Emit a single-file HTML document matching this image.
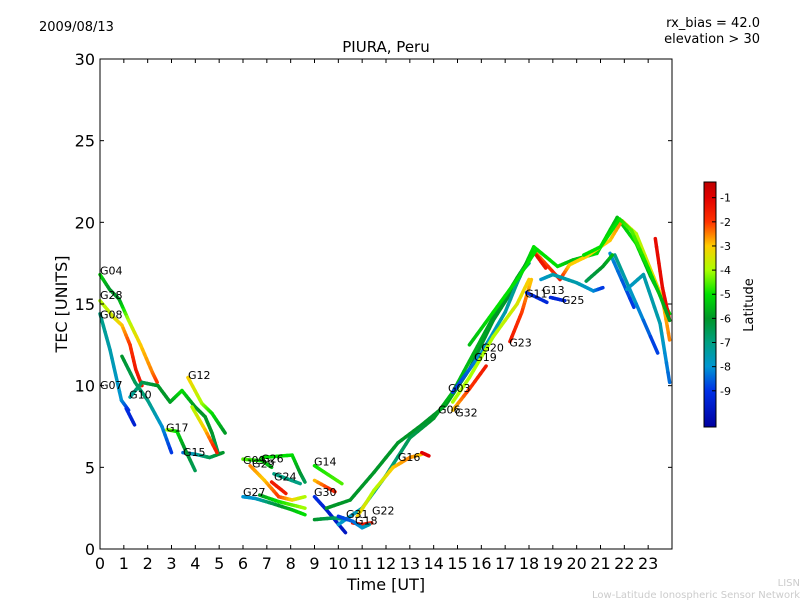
<!DOCTYPE html>
<html><head><meta charset="utf-8"><style>
body{margin:0;background:#fff;}
svg text{font-family:"DejaVu Sans","Liberation Sans",sans-serif;}
</style></head><body>
<svg id="chart" width="800" height="600" xmlns="http://www.w3.org/2000/svg">
<rect width="800" height="600" fill="#fff"/>
<text x="39" y="31" font-size="13">2009/08/13</text>
<text x="760" y="27" font-size="13" text-anchor="end">rx_bias = 42.0</text>
<text x="760" y="43" font-size="13" text-anchor="end">elevation &gt; 30</text>
<text x="386" y="52" font-size="15" text-anchor="middle">PIURA, Peru</text>
<text x="386" y="590" font-size="16" text-anchor="middle">Time [UT]</text>
<text x="67" y="304" font-size="16" text-anchor="middle" transform="rotate(-90 67 304)">TEC [UNITS]</text>
<text x="753" y="305" font-size="13" text-anchor="middle" transform="rotate(-90 753 305)">Latitude</text>
<text x="800" y="586" font-size="10" fill="#ccc" text-anchor="end">LISN</text>
<text x="800" y="598" font-size="10" fill="#ccc" text-anchor="end">Low-Latitude Ionospheric Sensor Network</text>
<defs><linearGradient id="cmap" x1="0" y1="1" x2="0" y2="0"></linearGradient></defs>
<g id="plot"></g>
<g id="cbar"></g>
</svg>
<script>
const xTicks=[0,1,2,3,4,5,6,7,8,9,10,11,12,13,14,15,16,17,18,19,20,21,22,23];
const yTicks=[0,5,10,15,20,25,30];
const cbarTicks=[-1,-2,-3,-4,-5,-6,-7,-8,-9];
const trackNames=["G04","G08","G07a","G07b","G10a","G10b","G15","G12a","G12b","G17","G09a","G27","G27b","G26","G29","G24a","G24b","G14","G30","G30b","G31","G18","R1","R2","R3","G16","G32","G23","G03","P1","P2","P3","P4","P5","P6","G11a","G11b","G11c","G13","P7","G19y","G20g","P8"];
const trackTimes=[
[0,0.4,0.8,1.2,1.7,2.2,2.4],
[0,0.63,0.92,1.26,1.5,1.76],
[0,0.42,0.9,1.2],
[1.1,1.45],
[0.92,1.47,2.0,2.6,3.0],
[1.26,1.76,2.43,2.94,3.44,3.99,4.41,4.7,4.95],
[3.48,4.0,4.6,5.16],
[3.69,4.28,4.7,5.25],
[3.86,4.41,4.91],
[2.81,3.23,3.57,3.99],
[6.0,6.8,7.2],
[6.0,6.5,7.2,8.06,8.6],
[6.7,7.5,8.6],
[6.8,8.06,8.4,8.6],
[6.3,6.9,7.5,8.06,8.6],
[7.2,7.8],
[7.3,8.4],
[9.0,10.15],
[9.0,9.86],
[9.0,9.5,10.3],
[9.0,9.8,10.4],
[10.6,11.0,11.4],
[9.5,10.5,11.5,12.5,13.5,14.5,15.5,16.5,17.5,18.2,19.2,19.85,20.85,21.7,22.5,23.1,23.9],
[10.0,11.0,12.0,13.0,14.0,14.8,15.5,16.5,17.5,17.9],
[10.8,11.5,12.3,13.0,13.5],
[13.5,13.8],
[14.8,15.5,16.2],
[17.2,17.7,18.1],
[14.8,15.5,16.0,17.0,17.7,18.0],
[18.3,19.3,19.7,20.4,21.4,21.9,22.5,23.6,23.9],
[21.4,22.4],
[22.1,22.8,23.5,23.9],
[21.6,23.4],
[23.3,23.6,23.9],
[20.4,21.1,21.5],
[17.9,18.75],
[18.9,19.5],
[18.5,19.0,20.0,20.7,21.1],
[18.3,18.7],
[10.0,10.6,11.0,11.3],
[14.8,15.5,16.5,17.5,18.0],
[15.5,16.5,17.5,18.3],
[20.3,21.0,21.8,22.3,23.0,23.5,23.9]
];
const trackTec=[
[16.8,15.9,15.3,14,12.5,10.8,10.2],
[15.2,14.1,13.7,12.5,11,10],
[14.4,12.2,9.1,8.5],
[8.6,7.6],
[11.8,10.2,9.1,7.5,5.9],
[9.3,10.2,10.0,9.0,9.7,8.7,8.1,7.1,5.9],
[5.9,5.8,5.6,5.9],
[10.5,8.9,8.3,7.1],
[8.7,7.3,5.9],
[7.3,7.2,6.1,4.8],
[5.5,5.4,5.0],
[3.2,3.1,2.8,2.4,2.1],
[3.3,2.9,2.5],
[5.6,5.75,4.65,4.1],
[5.1,4.2,3.2,3.0,3.2],
[4.1,3.4],
[4.6,4.0],
[5.1,4.0],
[4.2,3.5],
[3.2,2.4,1.0],
[1.8,1.9,1.8],
[1.6,1.5,1.6],
[2.5,3.0,4.7,6.5,7.6,8.8,11,14,16.3,18.5,17.3,17.7,18.1,20.3,18.7,16.7,14.4],
[1.5,2.5,4.5,6.8,8.0,9.6,11.5,14.2,16.6,17.5],
[2.0,3.6,5.0,5.6,5.8],
[5.9,5.7],
[8.5,9.8,11.2],
[12.7,14.5,16.5],
[9.6,11.0,12.0,14.5,17.0,17.5],
[18.1,16.5,17.4,17.9,18.9,20.1,19.3,15.3,12.8],
[18.1,14.8],
[15.9,16.8,13.8,10.2],
[18.0,12.0],
[19.0,16.0,14.0],
[16.4,17.3,18.0],
[15.7,15.1],
[15.4,15.2],
[16.5,16.8,16.3,15.8,16.0],
[18.0,17.2],
[2.0,1.7,1.3,1.5],
[9.0,10.5,13.0,15.0,16.5],
[12.5,14.5,16.5,18.3],
[18.0,18.5,20.2,19.5,17.2,15.5,14.0]
];
const trackLat=[
[-5,-6,-6,-4,-3,-2.5,-2],
[-4,-3.5,-3,-2,-1.5,-1.5],
[-7,-7.5,-8,-9],
[-9,-9.5],
[-6,-6.5,-7,-8,-9],
[-7.5,-6.5,-6,-6,-5,-6,-6,-6,-6.5],
[-8.5,-7.5,-6.5,-6],
[-3,-4,-5,-6],
[-4,-3,-1.5],
[-4,-5,-6,-6.5],
[-4.5,-5,-5.5],
[-8,-8,-6.5,-5.5,-5],
[-6,-5,-4],
[-5,-5,-6,-6.5],
[-2.5,-3,-2,-3,-4],
[-1.5,-1.5],
[-7,-7],
[-5,-4.5],
[-3,-1.5],
[-9,-9.5,-9.8],
[-6,-6.5,-7],
[-1.5,-1.5,-1.5],
[-6,-6,-6,-6,-6,-6,-6,-6,-6,-5,-5,-5.5,-5,-5.5,-5,-6,-5],
[-8,-7.5,-7,-6.5,-6,-5.5,-5.5,-6,-6,-6],
[-3,-4,-3,-2.5,-3],
[-1,-1],
[-3,-2,-1.5],
[-1.5,-2,-3],
[-9,-8.5,-8,-7.5,-7,-7],
[-2.5,-1.5,-3,-3,-3,-2.5,-4,-3,-2.5],
[-8,-9],
[-8,-7.5,-7.5,-8.5],
[-7,-9],
[-1.2,-1.2,-1.2],
[-6.5,-6,-5.5],
[-9,-9.3],
[-9.3,-9.3],
[-8,-7.5,-7.5,-8,-9],
[-1.2,-1.5],
[-9,-8.5,-8,-7.5],
[-4,-4,-4,-3.5,-3],
[-5.5,-5,-5,-5],
[-5,-5,-5,-4.5,-5,-5.5,-6]
];
const labelNames=["G04","G28","G08","G07","G10","G12","G17","G15","G09","G26","G29","G24","G27","G14","G30","G31","G22","G18","G16","G06","G32","G03","G19","G20","G23","G11","G13","G25"];
const labelT=[0,0,0,0,1.22,3.69,2.77,3.48,6.0,6.76,6.38,7.3,6.0,8.98,8.98,10.32,11.41,10.7,12.5,14.18,14.9,14.6,15.7,16.0,17.17,17.83,18.55,19.38];
const labelTec=[16.8,15.3,14.1,9.8,9.2,10.4,7.2,5.7,5.2,5.3,5.0,4.2,3.25,5.1,3.25,1.9,2.1,1.5,5.4,8.3,8.1,9.6,11.5,12.1,12.4,15.4,15.6,15.0];

const X0=100,X1=672,Y0=549,Y1=59;
const xs=t=>X0+t*(X1-X0)/24;
const ys=v=>Y0-v*(Y0-Y1)/30;
const LMIN=-10.5,LMAX=-0.35;
const CT=182,CB=427;
const cy=l=>CB-(l-LMIN)/(LMAX-LMIN)*(CB-CT);
const CSTOPS=[[-10.5,[0,0,160]],[-9,[0,48,230]],[-8,[0,150,210]],[-7,[0,160,130]],[-6,[0,150,40]],[-5,[0,225,0]],[-4,[170,255,0]],[-3,[255,205,0]],[-2,[255,50,0]],[-1,[225,0,0]],[-0.35,[190,0,0]]];
function cmap(l){
  if(l<=CSTOPS[0][0])return 'rgb('+CSTOPS[0][1]+')';
  for(let i=0;i<CSTOPS.length-1;i++){
    const a=CSTOPS[i],b=CSTOPS[i+1];
    if(l<=b[0]){const f=(l-a[0])/(b[0]-a[0]);return 'rgb('+a[1].map((c,k)=>Math.round(c+(b[1][k]-c)*f)).join(',')+')';}
  }
  return 'rgb('+CSTOPS[CSTOPS.length-1][1]+')';
}
const NS="http://www.w3.org/2000/svg";
const plot=document.getElementById('plot');
function mk(tag,attrs,parent){const e=document.createElementNS(NS,tag);for(const k in attrs)e.setAttribute(k,attrs[k]);parent.appendChild(e);return e;}
const grad=document.getElementById('cmap');
CSTOPS.forEach(s=>{mk('stop',{offset:(s[0]-LMIN)/(LMAX-LMIN),'stop-color':'rgb('+s[1]+')'},grad);});

trackNames.forEach((nm,i)=>{
  const g=mk('g',{},plot);
  
  
  const T=trackTimes[i],V=trackTec[i],L=trackLat[i];
  for(let j=0;j<T.length-1;j++){
    const n=6;
    for(let k=0;k<n;k++){
      const a=k/n,b=(k+1)/n,m=(a+b)/2;
      const seg=mk('line',{x1:xs(T[j]+(T[j+1]-T[j])*a),y1:ys(V[j]+(V[j+1]-V[j])*a),x2:xs(T[j]+(T[j+1]-T[j])*b),y2:ys(V[j]+(V[j+1]-V[j])*b),stroke:cmap(L[j]+(L[j+1]-L[j])*m),'stroke-width':3.5,'stroke-linecap':'round'},g);
      
      
    }
  }
});
labelNames.forEach((nm,i)=>{
  const t=mk('text',{x:xs(labelT[i]),y:ys(labelTec[i]),'font-size':11},plot);
  t.textContent=nm;
  
  
});
const fr=mk('rect',{x:X0,y:Y1,width:X1-X0,height:Y0-Y1,fill:'none',stroke:'#000','stroke-width':1},plot);


xTicks.forEach(t=>{
  const x=xs(t);
  mk('line',{x1:x,y1:Y0,x2:x,y2:Y0-4,stroke:'#000'},plot);
  mk('line',{x1:x,y1:Y1,x2:x,y2:Y1+4,stroke:'#000'},plot);
  const tx=mk('text',{x:x,y:Y0+20,'font-size':16,'text-anchor':'middle'},plot);
  tx.textContent=t;
  
  
});
yTicks.forEach(v=>{
  const y=ys(v);
  mk('line',{x1:X0,y1:y,x2:X0+4,y2:y,stroke:'#000'},plot);
  mk('line',{x1:X1,y1:y,x2:X1-4,y2:y,stroke:'#000'},plot);
  const tx=mk('text',{x:X0-5,y:y+6,'font-size':16,'text-anchor':'end'},plot);
  tx.textContent=v;
  
  
});
const cb=document.getElementById('cbar');
const cr=mk('rect',{x:704,y:CT,width:12,height:CB-CT,fill:'url(#cmap)',stroke:'#000','stroke-width':1},cb);


cbarTicks.forEach(l=>{
  const y=cy(l);
  mk('line',{x1:712,y1:y,x2:716,y2:y,stroke:'#000'},cb);
  const tx=mk('text',{x:720,y:y+4,'font-size':11},cb);
  tx.textContent=l;
  
  
});
</script>
</body></html>
